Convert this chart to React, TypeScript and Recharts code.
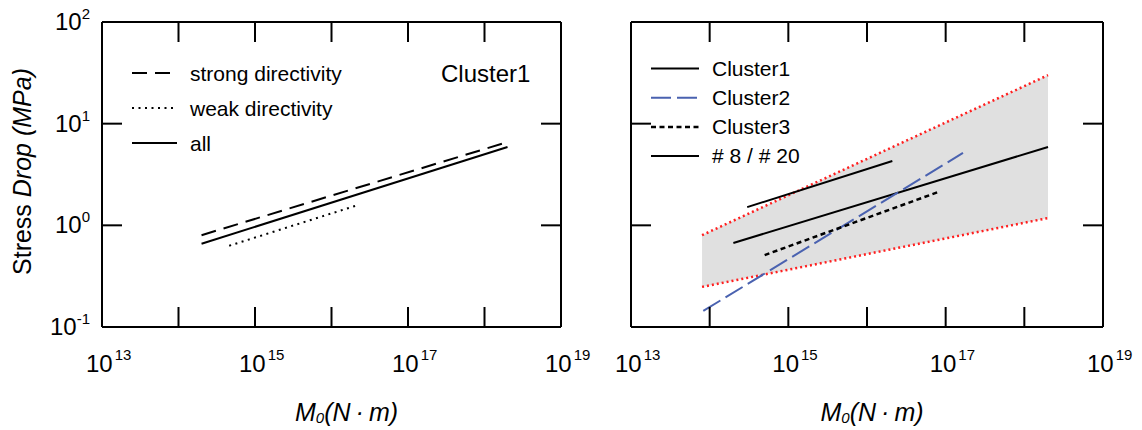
import React from 'react';
import { ComposedChart, Line, Area, XAxis, YAxis, Legend } from 'recharts';

const FONT = '"Liberation Sans", Arial, Helvetica, sans-serif';

// axis ticks
const xTicks = [1e13, 1e14, 1e15, 1e16, 1e17, 1e18, 1e19];
const xLabelExps = [13, 15, 17, 19];
const yTicks = [0.1, 1, 10, 100];

// left panel (Cluster1)
const strongX = [2e14, 2e18];
const strongY = [0.8, 6.6];
const weakX = [4.6e14, 2.2e16];
const weakY = [0.63, 1.58];
const allX = [2e14, 2e18];
const allY = [0.66, 5.9];

// right panel
const bandX = [8e13, 2e18];
const bandLow = [0.248, 1.18];
const bandHigh = [0.8, 30];
const cluster1X = [2e14, 2e18];
const cluster1Y = [0.67, 5.9];
const cluster2X = [8.3e13, 1.66e17];
const cluster2Y = [0.144, 5.15];
const cluster3X = [5e14, 8.1e16];
const cluster3Y = [0.51, 2.13];
const pairX = [3e14, 2.1e16];
const pairY = [1.51, 4.3];

// text
const leftLegend = ['strong directivity', 'weak directivity', 'all'];
const rightLegend = ['Cluster1', 'Cluster2', 'Cluster3', '# 8 / # 20'];
const leftTitle = 'Cluster1';

const toPts = (xs: number[], ys: number[]) => xs.map((x, i) => ({ x, y: ys[i] }));
const bandData = bandX.map((x, i) => ({ x, band: [bandLow[i], bandHigh[i]], lo: bandLow[i], hi: bandHigh[i] }));

const BLUE = '#4a62b0';
const RED = '#ff1f1f';
const GRAY = '#e0e0e0';

const leftStyles = [
  { dash: '15 8', color: '#000', w: 2 },
  { dash: '2 4.5', color: '#000', w: 2 },
  { dash: undefined, color: '#000', w: 2 },
];
const rightStyles = [
  { dash: undefined, color: '#000', w: 2 },
  { dash: '20 6', color: BLUE, w: 2 },
  { dash: '5 3.5', color: '#000', w: 2.5 },
  { dash: undefined, color: '#000', w: 2 },
];

function EmptyTick() {
  return <g />;
}

function XTickLabel(props: any) {
  const { x, y, payload } = props;
  const e = Math.round(Math.log10(payload.value));
  if (!xLabelExps.includes(e)) return <g />;
  return (
    <text x={x - 16} y={y} fill="#000" fontFamily={FONT} fontSize={24}>
      10
      <tspan dx={2} dy={-12} fontSize={15}>
        {e}
      </tspan>
    </text>
  );
}

function YTickLabel(props: any) {
  const { x, y, payload } = props;
  const e = Math.round(Math.log10(payload.value));
  return (
    <text x={x} y={y + 8} textAnchor="end" fill="#000" fontFamily={FONT} fontSize={24}>
      10
      <tspan dy={-11} fontSize={15}>
        {e}
      </tspan>
    </text>
  );
}

const makeXTitle = (dx: number) => (props: any) => {
  const vb = props.viewBox || {};
  const cx = vb.x + vb.width / 2 + dx;
  return (
    <text x={cx} y={vb.y + 94} textAnchor="middle" fill="#000" fontFamily={FONT} fontSize={25} fontStyle="italic">
      M
      <tspan fontSize={15} dy={2}>
        0
      </tspan>
      <tspan dy={-2}>(N{'\u2009'}·{'\u2009'}m)</tspan>
    </text>
  );
};

const YTitle = (props: any) => {
  const vb = props.viewBox || {};
  const cy = vb.y + vb.height / 2 - 3;
  return (
    <text
      transform={`translate(31, ${cy}) rotate(-90)`}
      textAnchor="middle"
      fill="#000"
      fontFamily={FONT}
      fontSize={25}
    >
      <tspan>Stress </tspan>
      <tspan fontStyle="italic">Drop (MPa)</tspan>
    </text>
  );
};

const axisLine = { stroke: '#000', strokeWidth: 2 };
const tickLine = { stroke: '#000', strokeWidth: 2 };

function LeftOverlay() {
  return (
    <svg width={600} height={430} style={{ position: 'absolute', left: 0, top: 0, overflow: 'visible' }}>
      {leftLegend.map((name, i) => {
        const y = 73 + i * 35;
        const s = leftStyles[i];
        return (
          <g key={name}>
            <line x1={132} x2={i === 0 ? 170 : 177} y1={y} y2={y} stroke={s.color} strokeWidth={s.w} strokeDasharray={s.dash} />
            <text x={190} y={y + 7.5} fill="#000" fontFamily={FONT} fontSize={21}>
              {name}
            </text>
          </g>
        );
      })}
      <text x={441} y={82} fill="#000" fontFamily={FONT} fontSize={24}>
        {leftTitle}
      </text>
    </svg>
  );
}

function RightOverlay() {
  return (
    <svg width={542} height={430} style={{ position: 'absolute', left: 0, top: 0, overflow: 'visible' }}>
      {rightLegend.map((name, i) => {
        const y = 68.5 + i * 29.2;
        const s = rightStyles[i];
        return (
          <g key={name}>
            <line x1={51} x2={99} y1={y} y2={y} stroke={s.color} strokeWidth={s.w} strokeDasharray={s.dash} />
            <text x={112} y={y + 7} fill="#000" fontFamily={FONT} fontSize={21}>
              {name}
            </text>
          </g>
        );
      })}
    </svg>
  );
}

const margin = { top: 21, right: 38, bottom: 43, left: 2 };

export default function App() {
  return (
    <div style={{ position: 'absolute', left: 0, top: 0, width: 1142, height: 430, background: '#fff', fontFamily: FONT }}>
      <div style={{ position: 'absolute', left: 0, top: 0 }}>
        <ComposedChart width={600} height={430} margin={margin}>
          <XAxis
            dataKey="x"
            type="number"
            scale="log"
            domain={[1e13, 1e19]}
            ticks={xTicks}
            interval={0}
            allowDataOverflow
            axisLine={axisLine}
            tickLine={tickLine}
            tickSize={-20}
            tickMargin={65}
            tick={<XTickLabel />}
            height={60}
            label={{ content: makeXTitle(15) }}
          />
          <XAxis
            xAxisId="top"
            orientation="top"
            dataKey="x"
            type="number"
            scale="log"
            domain={[1e13, 1e19]}
            ticks={xTicks}
            interval={0}
            allowDataOverflow
            axisLine={axisLine}
            tickLine={tickLine}
            tickSize={-20}
            tick={<EmptyTick />}
            height={1}
          />
          <YAxis
            type="number"
            scale="log"
            domain={[0.1, 100]}
            ticks={yTicks}
            interval={0}
            allowDataOverflow
            axisLine={axisLine}
            tickLine={tickLine}
            tickSize={-20}
            tickMargin={32}
            tick={<YTickLabel />}
            width={100}
            label={{ content: YTitle }}
          />
          <YAxis
            yAxisId="r"
            orientation="right"
            type="number"
            scale="log"
            domain={[0.1, 100]}
            ticks={yTicks}
            interval={0}
            allowDataOverflow
            axisLine={axisLine}
            tickLine={tickLine}
            tickSize={-20}
            tick={<EmptyTick />}
            width={1}
          />
          <Line data={toPts(strongX, strongY)} dataKey="y" name={leftLegend[0]} stroke="#000" strokeWidth={2} strokeDasharray="15 8" dot={false} activeDot={false} isAnimationActive={false} />
          <Line data={toPts(weakX, weakY)} dataKey="y" name={leftLegend[1]} stroke="#000" strokeWidth={2} strokeDasharray="2 4.5" dot={false} activeDot={false} isAnimationActive={false} />
          <Line data={toPts(allX, allY)} xAxisId="top" yAxisId="r" dataKey="y" name={leftLegend[2]} stroke="#000" strokeWidth={2} dot={false} activeDot={false} isAnimationActive={false} />
          <Legend
            layout="vertical"
            align="center"
            verticalAlign="middle"
            wrapperStyle={{ left: 0, top: 0, width: 600, height: 430 }}
            content={() => <LeftOverlay />}
          />
        </ComposedChart>
      </div>
      <div style={{ position: 'absolute', left: 600, top: 0 }}>
        <ComposedChart width={542} height={430} margin={margin} data={bandData}>
          <XAxis
            dataKey="x"
            type="number"
            scale="log"
            domain={[1e13, 1e19]}
            ticks={xTicks}
            interval={0}
            allowDataOverflow
            axisLine={axisLine}
            tickLine={tickLine}
            tickSize={-20}
            tickMargin={65}
            tick={<XTickLabel />}
            height={60}
            label={{ content: makeXTitle(5) }}
          />
          <XAxis
            xAxisId="top"
            orientation="top"
            dataKey="x"
            type="number"
            scale="log"
            domain={[1e13, 1e19]}
            ticks={xTicks}
            interval={0}
            allowDataOverflow
            axisLine={axisLine}
            tickLine={tickLine}
            tickSize={-20}
            tick={<EmptyTick />}
            height={1}
          />
          <YAxis
            type="number"
            scale="log"
            domain={[0.1, 100]}
            ticks={yTicks}
            interval={0}
            allowDataOverflow
            axisLine={axisLine}
            tickLine={tickLine}
            tickSize={-20}
            tick={<EmptyTick />}
            width={29}
          />
          <YAxis
            yAxisId="r"
            orientation="right"
            type="number"
            scale="log"
            domain={[0.1, 100]}
            ticks={yTicks}
            interval={0}
            allowDataOverflow
            axisLine={axisLine}
            tickLine={tickLine}
            tickSize={-20}
            tick={<EmptyTick />}
            width={1}
          />
          <Area dataKey="band" type="linear" fill={GRAY} fillOpacity={1} stroke="none" isAnimationActive={false} activeDot={false} />
          <Line dataKey="hi" type="linear" stroke={RED} strokeWidth={2.5} strokeDasharray="2 3" dot={false} activeDot={false} isAnimationActive={false} />
          <Line dataKey="lo" type="linear" stroke={RED} strokeWidth={2.5} strokeDasharray="2 3" dot={false} activeDot={false} isAnimationActive={false} />
          <Line data={toPts(cluster1X, cluster1Y)} xAxisId="top" yAxisId="r" dataKey="y" name={rightLegend[0]} stroke="#000" strokeWidth={2} dot={false} activeDot={false} isAnimationActive={false} />
          <Line data={toPts(cluster2X, cluster2Y)} dataKey="y" name={rightLegend[1]} stroke={BLUE} strokeWidth={2} strokeDasharray="20 6" dot={false} activeDot={false} isAnimationActive={false} />
          <Line data={toPts(cluster3X, cluster3Y)} dataKey="y" name={rightLegend[2]} stroke="#000" strokeWidth={2.5} strokeDasharray="5 3.5" dot={false} activeDot={false} isAnimationActive={false} />
          <Line data={toPts(pairX, pairY)} dataKey="y" name={rightLegend[3]} stroke="#000" strokeWidth={2} dot={false} activeDot={false} isAnimationActive={false} />
          <Legend
            layout="vertical"
            align="center"
            verticalAlign="middle"
            wrapperStyle={{ left: 0, top: 0, width: 542, height: 430 }}
            content={() => <RightOverlay />}
          />
        </ComposedChart>
      </div>
    </div>
  );
}
